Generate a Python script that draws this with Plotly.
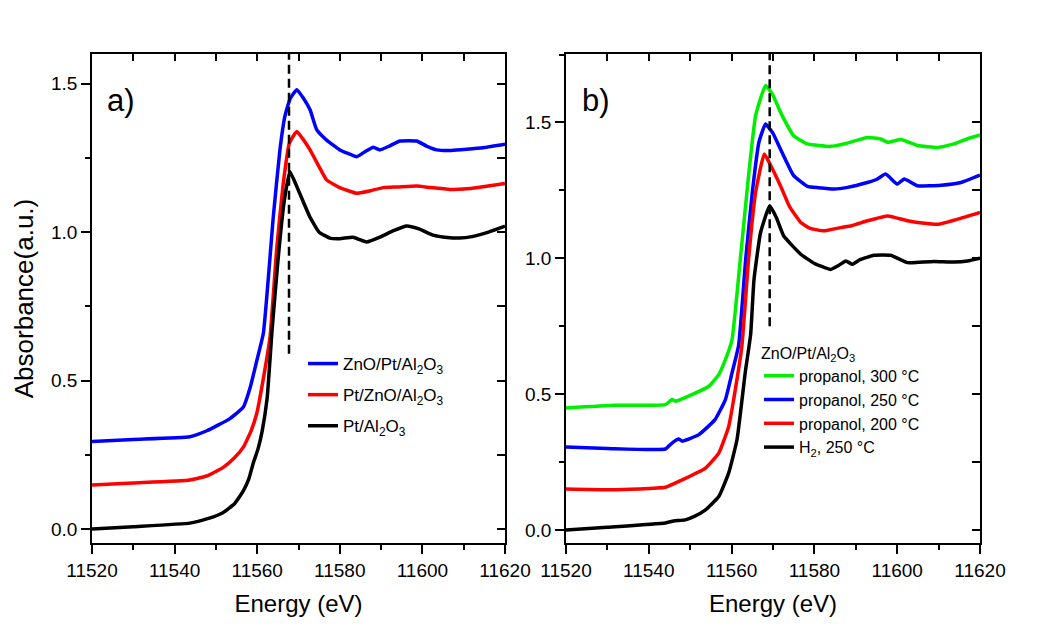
import plotly.graph_objects as go

# ---------------- data ----------------
# Panel a)
blue_a_E = [11520, 11530, 11543.7, 11547.8, 11553.4, 11556.6, 11558.3, 11559.9, 11561.5, 11563.9, 11565.5,
            11566.7, 11568, 11569.6, 11571, 11572.8, 11574.4, 11576.8, 11580, 11582, 11584.1, 11586, 11588.1,
            11589.7, 11592, 11594.6, 11598.6, 11601, 11603.5, 11607, 11610.7, 11615, 11620]
blue_a_A = [0.295, 0.302, 0.311, 0.331, 0.372, 0.41, 0.477, 0.567, 0.66, 1.052, 1.277,
            1.39, 1.45, 1.48, 1.455, 1.412, 1.345, 1.31, 1.277, 1.265, 1.254, 1.27, 1.286,
            1.277, 1.29, 1.307, 1.307, 1.29, 1.277, 1.275, 1.279, 1.285, 1.296]

red_a_E = [11520, 11530, 11543.7, 11548, 11551.7, 11554.5, 11556.6, 11558.5, 11559.9, 11561.4, 11563.1,
           11564.7, 11566.3, 11567.8, 11569.6, 11571, 11572.8, 11575, 11576.8, 11580, 11584.1, 11587,
           11590.5, 11594, 11598.6, 11602, 11606.7, 11610, 11614.7, 11620]
red_a_A = [0.148, 0.155, 0.165, 0.18, 0.207, 0.24, 0.275, 0.33, 0.39, 0.5, 0.646,
           0.94, 1.164, 1.3, 1.339, 1.315, 1.277, 1.22, 1.176, 1.15, 1.131, 1.138,
           1.15, 1.152, 1.155, 1.15, 1.144, 1.145, 1.153, 1.164]

black_a_E = [11520, 11530, 11543.7, 11548, 11551.7, 11554.5, 11556.6, 11558, 11559, 11560.2, 11561.2,
             11562.4, 11563.6, 11565, 11566.5, 11567.9, 11570, 11572.8, 11575, 11577.6, 11580, 11583.2,
             11586.5, 11590, 11593, 11596.2, 11599, 11602.6, 11606, 11609, 11612, 11616, 11620]
black_a_A = [0.0, 0.008, 0.02, 0.035, 0.055, 0.085, 0.128, 0.17, 0.22, 0.27, 0.33,
             0.44, 0.67, 0.9, 1.1, 1.204, 1.14, 1.05, 1.0, 0.98, 0.978, 0.983,
             0.967, 0.985, 1.005, 1.021, 1.012, 0.99, 0.982, 0.98, 0.985, 1.0, 1.02]

# Panel b)
green_b_E = [11520, 11532, 11544, 11545.6, 11546.5, 11550.4, 11554.5, 11556.9, 11558.5, 11560.1, 11562.1,
             11564.1, 11565.8, 11568.2, 11570, 11571.8, 11575, 11578.3, 11583.9, 11588, 11592.8, 11596,
             11597.7, 11600.9, 11604.9, 11609.8, 11613.8, 11617, 11620]
green_b_A = [0.449, 0.459, 0.461, 0.48, 0.474, 0.498, 0.529, 0.572, 0.627, 0.70, 0.996,
             1.304, 1.525, 1.636, 1.60, 1.538, 1.451, 1.421, 1.412, 1.424, 1.445, 1.439,
             1.427, 1.437, 1.415, 1.408, 1.421, 1.44, 1.454]

blue_b_E = [11520, 11530, 11544, 11545.6, 11547.2, 11548, 11552, 11556, 11558.5, 11560.1, 11561.7,
            11563.4, 11565, 11566.6, 11568.2, 11570, 11571.8, 11575, 11578.3, 11581, 11584.7, 11588,
            11592.8, 11595, 11597.2, 11600, 11601.7, 11604.9, 11610.6, 11615.4, 11620]
blue_b_A = [0.305, 0.30, 0.298, 0.32, 0.335, 0.327, 0.35, 0.406, 0.48, 0.578, 0.68,
            0.996, 1.242, 1.427, 1.494, 1.46, 1.402, 1.304, 1.265, 1.26, 1.255, 1.261,
            1.279, 1.29, 1.31, 1.273, 1.292, 1.267, 1.269, 1.279, 1.306]

red_b_E = [11520, 11531, 11544, 11548, 11553.7, 11556.9, 11559.3, 11560.9, 11562.5, 11564.1, 11565.8,
           11567.9, 11569.5, 11571.8, 11574, 11576.7, 11579, 11582.3, 11586.3, 11589, 11592.8, 11597.7,
           11602.5, 11606, 11609.8, 11614.6, 11620]
red_b_A = [0.151, 0.148, 0.157, 0.184, 0.228, 0.283, 0.381, 0.517, 0.68, 0.996, 1.242,
           1.384, 1.34, 1.267, 1.19, 1.132, 1.11, 1.101, 1.113, 1.12, 1.138, 1.156,
           1.138, 1.13, 1.125, 1.144, 1.169]

black_b_E = [11520, 11530, 11544, 11546, 11548.8, 11551, 11553.7, 11556.9, 11559.3, 11561.3, 11563.3,
             11564.6, 11565.4, 11567, 11569.2, 11570.8, 11572.6, 11576.7, 11579.9, 11583.9, 11586, 11587.6,
             11589.2, 11591, 11594.4, 11598.4, 11602.5, 11605, 11608.9, 11613.8, 11617, 11620]
black_b_A = [0.0, 0.01, 0.026, 0.033, 0.037, 0.05, 0.074, 0.123, 0.21, 0.332, 0.58,
             0.72, 0.92, 1.095, 1.193, 1.15, 1.082, 1.015, 0.982, 0.959, 0.975, 0.99,
             0.978, 0.995, 1.011, 1.011, 0.984, 0.985, 0.988, 0.986, 0.99, 1.0]

labels_a = ["ZnO/Pt/Al<sub>2</sub>O<sub>3</sub>", "Pt/ZnO/Al<sub>2</sub>O<sub>3</sub>", "Pt/Al<sub>2</sub>O<sub>3</sub>"]
labels_b = ["propanol, 300 °C", "propanol, 250 °C", "propanol, 200 °C", "H<sub>2</sub>, 250 °C"]
legend_b_title = "ZnO/Pt/Al<sub>2</sub>O<sub>3</sub>"

# dashed reference lines (edge positions) and their lower ends
edge_a, edge_a_low = 11567.7, 0.59
edge_b, edge_b_low = 11569.2, 0.75

x_range = [11520, 11620]
y_range_a = [-0.047, 1.6]
y_range_b = [-0.048, 1.752]

# ---------------- layout helpers ----------------
# the page body has an 8 px margin, so the figure is drawn 8 px smaller and offset
OFF = 8
W, H = 1050 - OFF, 641 - OFF


def px(x):  # screen x pixel -> paper fraction
    return (x - OFF) / W


def py(y):  # screen y pixel -> paper fraction
    return 1 - (y - OFF) / H


FONT = "Liberation Sans, Arial, sans-serif"
LW = 3.5
BLUE, RED, BLACK, GREEN = "#0000FF", "#FF0000", "#000000", "#00EE00"

fig = go.Figure()

for E, A, name, col, g in [(blue_a_E, blue_a_A, labels_a[0], BLUE, "a1"),
                           (red_a_E, red_a_A, labels_a[1], RED, "a2"),
                           (black_a_E, black_a_A, labels_a[2], BLACK, "a3")]:
    fig.add_trace(go.Scatter(x=E, y=A, mode="lines", name=name, legendgroup=g,
                             line=dict(color=col, width=LW, shape="spline", smoothing=0.4),
                             xaxis="x", yaxis="y", legend="legend"))

for E, A, name, col, g in [(green_b_E, green_b_A, labels_b[0], GREEN, "b1"),
                           (blue_b_E, blue_b_A, labels_b[1], BLUE, "b2"),
                           (red_b_E, red_b_A, labels_b[2], RED, "b3"),
                           (black_b_E, black_b_A, labels_b[3], BLACK, "b4")]:
    fig.add_trace(go.Scatter(x=E, y=A, mode="lines", name=name, legendgroup=g,
                             line=dict(color=col, width=LW, shape="spline", smoothing=0.4),
                             xaxis="x2", yaxis="y2", legend="legend2"))

# invisible helper traces so that the inward-ticked top/right frame axes get drawn
for xa, ya, E, A in [("x3", "y", black_a_E, black_a_A), ("x", "y3", black_a_E, black_a_A),
                     ("x4", "y2", black_b_E, black_b_A), ("x2", "y4", black_b_E, black_b_A)]:
    fig.add_trace(go.Scatter(x=E, y=A, mode="lines", line=dict(width=1, color="rgba(0,0,0,0)"),
                             showlegend=False, hoverinfo="skip", xaxis=xa, yaxis=ya))

dom_a = [px(92), px(505)]
dom_b = [px(566), px(980)]
dom_y = [py(543), py(54)]

tickfont = dict(family=FONT, size=19, color="black")


def xax(domain, anchor):
    return dict(domain=domain, anchor=anchor, range=x_range, tick0=11520, dtick=20, tickformat="d",
                ticks="outside", ticklen=9, tickwidth=1.5, tickcolor="black",
                showline=True, linewidth=1.5, linecolor="black", mirror=True,
                showgrid=False, zeroline=False, tickfont=tickfont, automargin=False,
                minor=dict(dtick=10, ticks="outside", ticklen=5, tickwidth=1.5, tickcolor="black"),
                title=dict(text="Energy (eV)", font=dict(family=FONT, size=24, color="black"), standoff=16))


def yax(domain, anchor, rng, title=None):
    d = dict(domain=domain, anchor=anchor, range=rng, tick0=0, dtick=0.5, tickformat=".1f",
             ticks="outside", ticklen=9, tickwidth=1.5, tickcolor="black",
             showline=True, linewidth=1.5, linecolor="black", mirror=True,
             showgrid=False, zeroline=False, tickfont=tickfont, automargin=False,
             minor=dict(dtick=0.25, ticks="outside", ticklen=5, tickwidth=1.5, tickcolor="black"))
    if title:
        d["title"] = dict(text=title, font=dict(family=FONT, size=26, color="black"), standoff=10)
    return d


def xtop(over, anchor, dom):
    return dict(overlaying=over, anchor=anchor, side="top", domain=dom, range=x_range, tick0=11520,
                dtick=10, ticks="inside", ticklen=7, tickwidth=1.5, tickcolor="black",
                showticklabels=False, showline=False, showgrid=False, zeroline=False, automargin=False)


def yright(over, anchor, rng, dom):
    return dict(overlaying=over, anchor=anchor, side="right", domain=dom, range=rng, tick0=0, dtick=0.25,
                ticks="inside", ticklen=8, tickwidth=1.5, tickcolor="black", showticklabels=False,
                showline=False, showgrid=False, zeroline=False, automargin=False)


dash_style = "9px,5px"
shapes = [
    dict(type="line", xref="x", yref="y", x0=edge_a, x1=edge_a, y0=edge_a_low, y1=y_range_a[1],
         line=dict(color="black", width=2.5, dash=dash_style)),
    dict(type="line", xref="x2", yref="y2", x0=edge_b, x1=edge_b, y0=edge_b_low, y1=y_range_b[1],
         line=dict(color="black", width=2.5, dash=dash_style)),
]

fig.update_layout(
    width=W, height=H,
    margin=dict(l=0, r=0, t=0, b=0, autoexpand=False),
    paper_bgcolor="white", plot_bgcolor="white",
    font=dict(family=FONT, color="black"),
    xaxis=xax(dom_a, "y"),
    yaxis=yax(dom_y, "x", y_range_a, "Absorbance(a.u.)"),
    xaxis2=xax(dom_b, "y2"),
    yaxis2=yax(dom_y, "x2", y_range_b),
    xaxis3=xtop("x", "y", dom_a),
    yaxis3=yright("y", "x", y_range_a, dom_y),
    xaxis4=xtop("x2", "y2", dom_b),
    yaxis4=yright("y2", "x2", y_range_b, dom_y),
    shapes=shapes,
    legend=dict(x=px(303), y=py(346), xanchor="left", yanchor="top",
                bgcolor="rgba(0,0,0,0)", font=dict(family=FONT, size=17, color="black"),
                traceorder="grouped", tracegroupgap=6, itemclick=False),
    legend2=dict(x=px(759), y=py(338), xanchor="left", yanchor="top",
                 bgcolor="rgba(0,0,0,0)", font=dict(family=FONT, size=16, color="black"),
                 title=dict(text=legend_b_title, font=dict(family=FONT, size=16, color="black")),
                 traceorder="grouped", tracegroupgap=0, itemclick=False),
    annotations=[
        dict(text="a)", xref="paper", yref="paper", x=px(105), y=py(100),
             xanchor="left", yanchor="middle", showarrow=False,
             font=dict(family=FONT, size=31, color="black")),
        dict(text="b)", xref="paper", yref="paper", x=px(580), y=py(100),
             xanchor="left", yanchor="middle", showarrow=False,
             font=dict(family=FONT, size=31, color="black")),
    ],
)

fig.write_html("out.html")
